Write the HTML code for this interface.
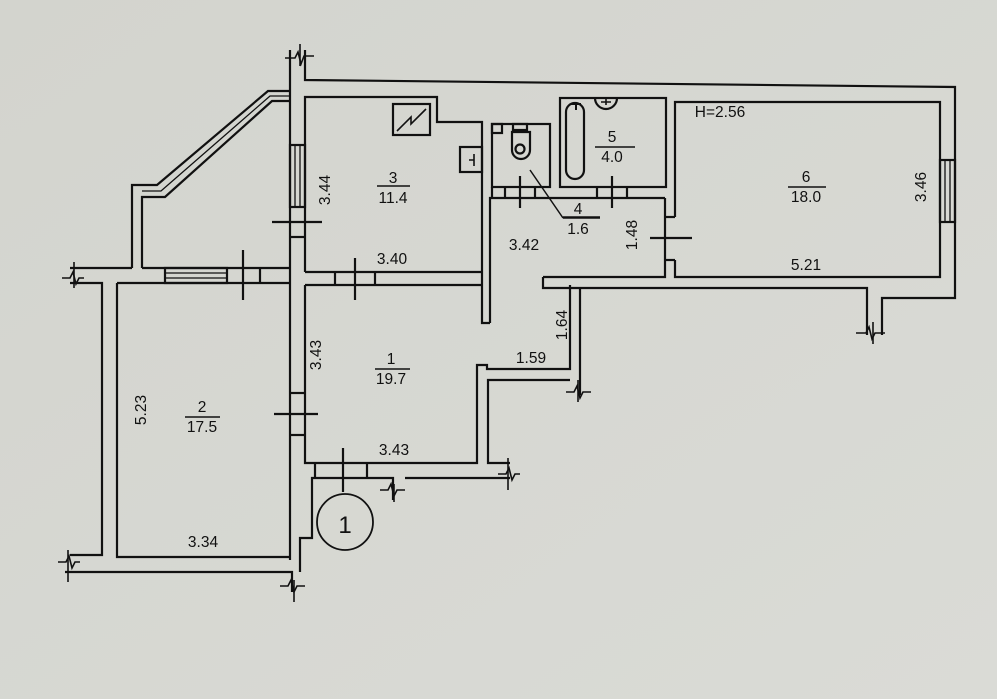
<!DOCTYPE html>
<html><head><meta charset="utf-8"><style>
html,body{margin:0;padding:0;background:#d7d8d3;}
svg{display:block}
text{font-family:"Liberation Sans",sans-serif;font-size:15.5px;fill:#111;}
</style></head><body>
<svg width="997" height="699" viewBox="0 0 997 699" xmlns="http://www.w3.org/2000/svg">
<defs><linearGradient id="bg" x1="0" y1="0" x2="1" y2="1"><stop offset="0" stop-color="#d3d4ce"/><stop offset="1" stop-color="#dadbd6"/></linearGradient></defs>
<rect width="997" height="699" fill="url(#bg)"/>
<g fill="none" stroke="#111" stroke-width="2.2" stroke-linejoin="miter">
<polyline points="305,50 305,80 955,87 955,298 882,298 882,335"/>
<polyline points="290,50 290,268"/>
<polyline points="543,277 543,288 867,288 867,335"/>
<polyline points="675,198 675,102 940,102 940,277 675,277 675,260"/>
<line x1="675" y1="217" x2="675" y2="198"/>
<polyline points="665,198 665,277 543,277"/>
<rect x="940" y="160" width="15" height="62"/>
<line x1="945" y1="160" x2="945" y2="222" stroke-width="1.3"/><line x1="950" y1="160" x2="950" y2="222" stroke-width="1.3"/>
<line x1="665" y1="217" x2="675" y2="217"/><line x1="665" y1="260" x2="675" y2="260"/>
<line x1="650" y1="238" x2="692" y2="238"/>
<rect x="560" y="98" width="106" height="89"/>
<rect x="566" y="103" width="18" height="76" rx="9"/>
<path d="M571,104 h10 M576,104 v6" stroke-width="2"/>
<path d="M595,98 a11,11 0 0 0 22,0" /><path d="M601,102 h10 M606,99 v6" stroke-width="1.6"/>
<rect x="492" y="124" width="58" height="63"/>
<rect x="492" y="124" width="10" height="9"/>
<rect x="513" y="124" width="14" height="6"/>
<path d="M512,132 h18 v18 a9,9 0 0 1 -18,0 z"/>
<circle cx="520" cy="149" r="4.5"/>
<polyline points="490,323 490,198 665,198"/>
<line x1="492" y1="187" x2="492" y2="198"/>
<line x1="505" y1="187" x2="505" y2="198"/><line x1="535" y1="187" x2="535" y2="198"/>
<line x1="597" y1="187" x2="597" y2="198"/><line x1="627" y1="187" x2="627" y2="198"/>
<line x1="520" y1="176" x2="520" y2="208"/><line x1="612" y1="176" x2="612" y2="208"/>
<line x1="530" y1="170" x2="563" y2="218" stroke-width="1.5"/><line x1="563" y1="218" x2="600" y2="218" stroke-width="1.5"/>
<polyline points="305,237 305,97 437,97 437,122 482,122 482,323 490,323"/>
<polyline points="305,272 482,272"/>
<polyline points="305,285 482,285"/>
<rect x="393" y="104" width="37" height="31"/>
<path d="M397,131 L411,117 L411,124 L426,109" stroke-width="1.6"/>
<rect x="460" y="147" width="22" height="25"/>
<path d="M474,154 v12 M474,160 h-5" stroke-width="1.6"/>
<rect x="290" y="145" width="15" height="62"/>
<line x1="295" y1="145" x2="295" y2="207" stroke-width="1.3"/><line x1="300" y1="145" x2="300" y2="207" stroke-width="1.3"/>
<line x1="290" y1="237" x2="305" y2="237"/>
<line x1="272" y1="222" x2="322" y2="222"/>
<line x1="305" y1="237" x2="305" y2="272"/>
<line x1="335" y1="272" x2="335" y2="285"/><line x1="375" y1="272" x2="375" y2="285"/>
<line x1="355" y1="258" x2="355" y2="300"/>
<polyline points="132,268 132,185 157,185 268,91 290,91"/>
<polyline points="142,268 142,197 165,197 272,101 290,101"/>
<polyline points="142,191 161,191 270,96 290,96" stroke-width="1.3"/>
<line x1="142" y1="268" x2="290" y2="268"/>
<line x1="290" y1="268" x2="290" y2="560"/>
<polyline points="70,268 132,268"/>
<polyline points="70,283 102,283 102,555 70,555"/>
<polyline points="117,283 290,283"/>
<rect x="165" y="268" width="62" height="15"/>
<line x1="165" y1="273" x2="227" y2="273" stroke-width="1.3"/><line x1="165" y1="278" x2="227" y2="278" stroke-width="1.3"/>
<line x1="260" y1="268" x2="260" y2="283"/>
<line x1="243" y1="250" x2="243" y2="300"/>
<polyline points="117,283 117,557 290,557"/>
<polyline points="65,572 292,572 292,592"/>
<polyline points="305,285 305,463 477,463 477,365 487,365 487,369 570,369 570,285"/>
<polyline points="580,288 580,395"/>
<polyline points="570,380 488,380 488,463 510,463"/>
<line x1="290" y1="393" x2="305" y2="393"/><line x1="290" y1="435" x2="305" y2="435"/>
<line x1="274" y1="414" x2="318" y2="414"/>
<polyline points="300,572 300,538 312,538 312,478 393,478 393,500"/>
<line x1="405" y1="478" x2="510" y2="478"/>
<line x1="315" y1="463" x2="315" y2="478"/><line x1="367" y1="463" x2="367" y2="478"/>
<line x1="343" y1="448" x2="343" y2="492"/>
<circle cx="345" cy="522" r="28" stroke-width="1.8"/>
<g stroke-width="1.6">
<path d="M285,58 h10 l3,-6 l3,12 l3,-8 h10"/><path d="M300,44 v22"/>
<path d="M62,278 h8 l3,-6 l3,12 l3,-6 h5"/><path d="M74,262 v26"/>
<path d="M58,562 h8 l3,-6 l3,12 l3,-6 h5"/><path d="M68,550 v32"/>
<path d="M280,586 h8 l3,-6 l3,12 l3,-6 h8"/><path d="M294,580 v22"/>
<path d="M380,490 h8 l3,-6 l3,12 l3,-6 h8"/><path d="M394,484 v18"/>
<path d="M498,474 h8 l3,-6 l3,12 l3,-6 h5"/><path d="M508,458 v32"/>
<path d="M566,392 h8 l3,-6 l3,12 l3,-6 h8"/><path d="M578,380 v22"/>
<path d="M856,333 h10 l3,-6 l3,12 l3,-6 h10"/><path d="M873,322 v22"/>
</g>
</g>
<g stroke="#111" stroke-width="1.4">
<line x1="377" y1="186" x2="410" y2="186"/>
<line x1="563" y1="217" x2="600" y2="217"/>
<line x1="595" y1="147" x2="635" y2="147"/>
<line x1="788" y1="187" x2="826" y2="187"/>
<line x1="375" y1="369" x2="410" y2="369"/>
<line x1="185" y1="417" x2="220" y2="417"/>
</g>
<g text-anchor="middle">
<text x="393" y="183">3</text><text x="393" y="203">11.4</text>
<text x="392" y="264">3.40</text>
<text x="524" y="250">3.42</text>
<text x="578" y="214">4</text><text x="578" y="234">1.6</text>
<text x="612" y="142">5</text><text x="612" y="162">4.0</text>
<text x="720" y="117">H=2.56</text>
<text x="806" y="182">6</text><text x="806" y="202">18.0</text>
<text x="806" y="270">5.21</text>
<text x="531" y="363">1.59</text>
<text x="391" y="364">1</text><text x="391" y="384">19.7</text>
<text x="202" y="412">2</text><text x="202" y="432">17.5</text>
<text x="394" y="455">3.43</text>
<text x="203" y="547">3.34</text>
<text x="345" y="533" style="font-size:24px">1</text>
<text transform="translate(330,190) rotate(-90)">3.44</text>
<text transform="translate(637,235) rotate(-90)">1.48</text>
<text transform="translate(926,187) rotate(-90)">3.46</text>
<text transform="translate(567,325) rotate(-90)">1.64</text>
<text transform="translate(321,355) rotate(-90)">3.43</text>
<text transform="translate(146,410) rotate(-90)">5.23</text>
</g>
</svg>
</body></html>
